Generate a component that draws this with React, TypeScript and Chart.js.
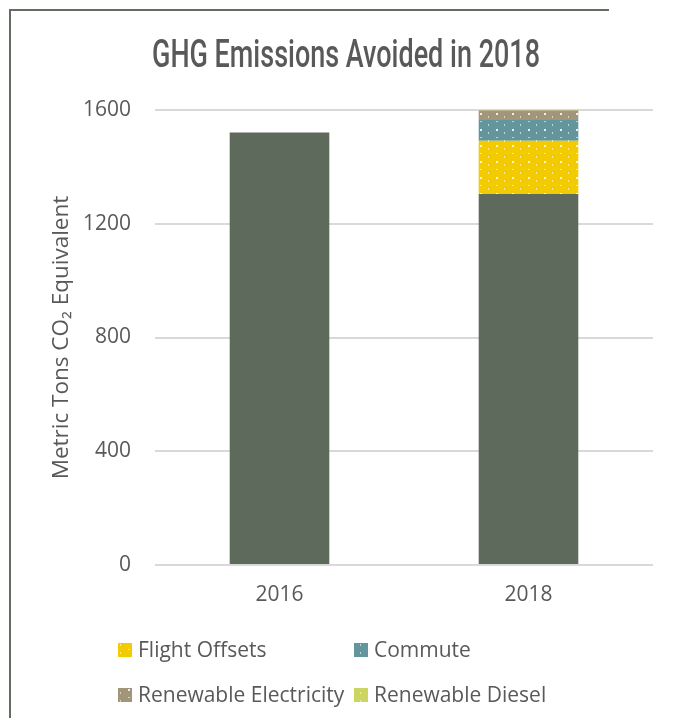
import React, { useEffect, useRef } from 'react';
import { Chart, registerables } from 'chart.js';
Chart.register(...registerables);

const categories = ['2016', '2018'];
const baseline = [1521, 1305];
const flightOffsets = [null, 187];
const commute = [null, 73];
const renewableElectricity = [null, 33];
const renewableDiesel = [null, 2];
const yTicks = [0, 400, 800, 1200, 1600];
const seriesLabels = ['Flight Offsets', 'Commute', 'Renewable Electricity', 'Renewable Diesel'];
const titleText = 'GHG Emissions Avoided in 2018';
const yAxisTitle = 'Metric Tons CO\u2082 Equivalent';

const TEXT = '#595959';
const GRID = '#d9d9d9';
const FRAME = '#646d62';

function makePattern(color: string): CanvasPattern | string {
  const c = document.createElement('canvas');
  c.width = 16;
  c.height = 16;
  const g = c.getContext('2d');
  if (!g) return color;
  g.fillStyle = color;
  g.fillRect(0, 0, 16, 16);
  g.fillStyle = 'rgba(255,255,255,0.85)';
  g.fillRect(8, 9, 2, 2);
  g.fillStyle = 'rgba(255,255,255,0.6)';
  g.fillRect(8, 1, 2, 1);
  g.fillRect(0, 4, 1, 2);
  g.fillRect(0, 12, 1, 2);
  const p = g.createPattern(c, 'repeat');
  return p || color;
}

const borderPlugin = {
  id: 'frameBorder',
  beforeDraw(chart: any) {
    const ctx = chart.ctx;
    ctx.save();
    ctx.fillStyle = FRAME;
    ctx.fillRect(1, 1, 600, 2);
    ctx.fillRect(1, 1, 2, chart.height - 1);
    ctx.restore();
  },
};

const titlePlugin = {
  id: 'condensedTitle',
  afterDraw(chart: any) {
    const ctx = chart.ctx;
    ctx.save();
    ctx.font = '500 38px Roboto';
    const w = ctx.measureText(titleText).width;
    const sx = 388 / w;
    ctx.translate(338, 59);
    ctx.scale(sx, 1);
    ctx.fillStyle = TEXT;
    ctx.textAlign = 'center';
    ctx.textBaseline = 'alphabetic';
    ctx.fillText(titleText, 0, 0);
    ctx.restore();
  },
};

const legendPlugin = {
  id: 'gridLegend',
  afterDraw(chart: any) {
    const ctx = chart.ctx;
    const area = chart.chartArea;
    const cols = [area.left - 37, area.left + 199];
    const rows = [area.bottom + 85, area.bottom + 130];
    ctx.save();
    ctx.font = '21px "Open Sans"';
    ctx.textBaseline = 'middle';
    ctx.textAlign = 'left';
    chart.data.datasets.forEach((ds: any, i: number) => {
      if (i === 0) return;
      const k = i - 1;
      const x = cols[k % 2];
      const y = rows[Math.floor(k / 2)];
      ctx.fillStyle = ds.backgroundColor;
      ctx.fillRect(x, y - 7, 14, 14);
      ctx.fillStyle = TEXT;
      ctx.fillText(ds.label, x + 20, y + 1);
    });
    ctx.restore();
  },
};

export default function App() {
  const ref = useRef<HTMLCanvasElement | null>(null);
  useEffect(() => {
    if (!ref.current) return;
    const chart = new Chart(ref.current, {
      type: 'bar',
      data: {
        labels: categories,
        datasets: [
          { label: 'Baseline', data: baseline, backgroundColor: '#5e6a5b' },
          { label: seriesLabels[0], data: flightOffsets, backgroundColor: makePattern('#f2cb00') as any },
          { label: seriesLabels[1], data: commute, backgroundColor: makePattern('#63959d') as any },
          { label: seriesLabels[2], data: renewableElectricity, backgroundColor: makePattern('#a3957a') as any },
          { label: seriesLabels[3], data: renewableDiesel, backgroundColor: makePattern('#cbd55f') as any },
        ],
      },
      options: {
        responsive: false,
        animation: false,
        datasets: { bar: { categoryPercentage: 1, barPercentage: 0.4 } },
        layout: { padding: { top: 102, left: 0, right: 18, bottom: 103 } },
        plugins: {
          legend: { display: false },
          title: { display: false },
          tooltip: { enabled: false },
        },
        scales: {
          x: {
            stacked: true,
            grid: { display: false, drawTicks: false },
            border: { display: false },
            ticks: { color: TEXT, font: { family: 'Open Sans', size: 21 }, padding: 17 },
            afterFit: (s: any) => { s.height = 50; },
          },
          y: {
            stacked: true,
            min: 0,
            max: 1600,
            grid: { color: GRID, lineWidth: 2, drawTicks: false },
            border: { display: false },
            afterBuildTicks: (s: any) => { s.ticks = yTicks.map((v) => ({ value: v })); },
            ticks: {
              color: TEXT,
              font: { family: 'Open Sans', size: 21 },
              padding: 24,
              callback: (v: any) => String(v),
            },
            title: {
              display: true,
              text: yAxisTitle,
              color: TEXT,
              font: { family: 'Open Sans', size: 22.5 },
              padding: { top: 40, bottom: 0 },
            },
            afterFit: (s: any) => { s.width = 147; },
          },
        },
      },
      plugins: [borderPlugin, titlePlugin, legendPlugin],
    });
    return () => chart.destroy();
  }, []);
  return (
    <div style={{ width: 663, height: 710 }}>
      <canvas ref={ref} width={663} height={710} style={{ display: 'block' }} />
    </div>
  );
}
